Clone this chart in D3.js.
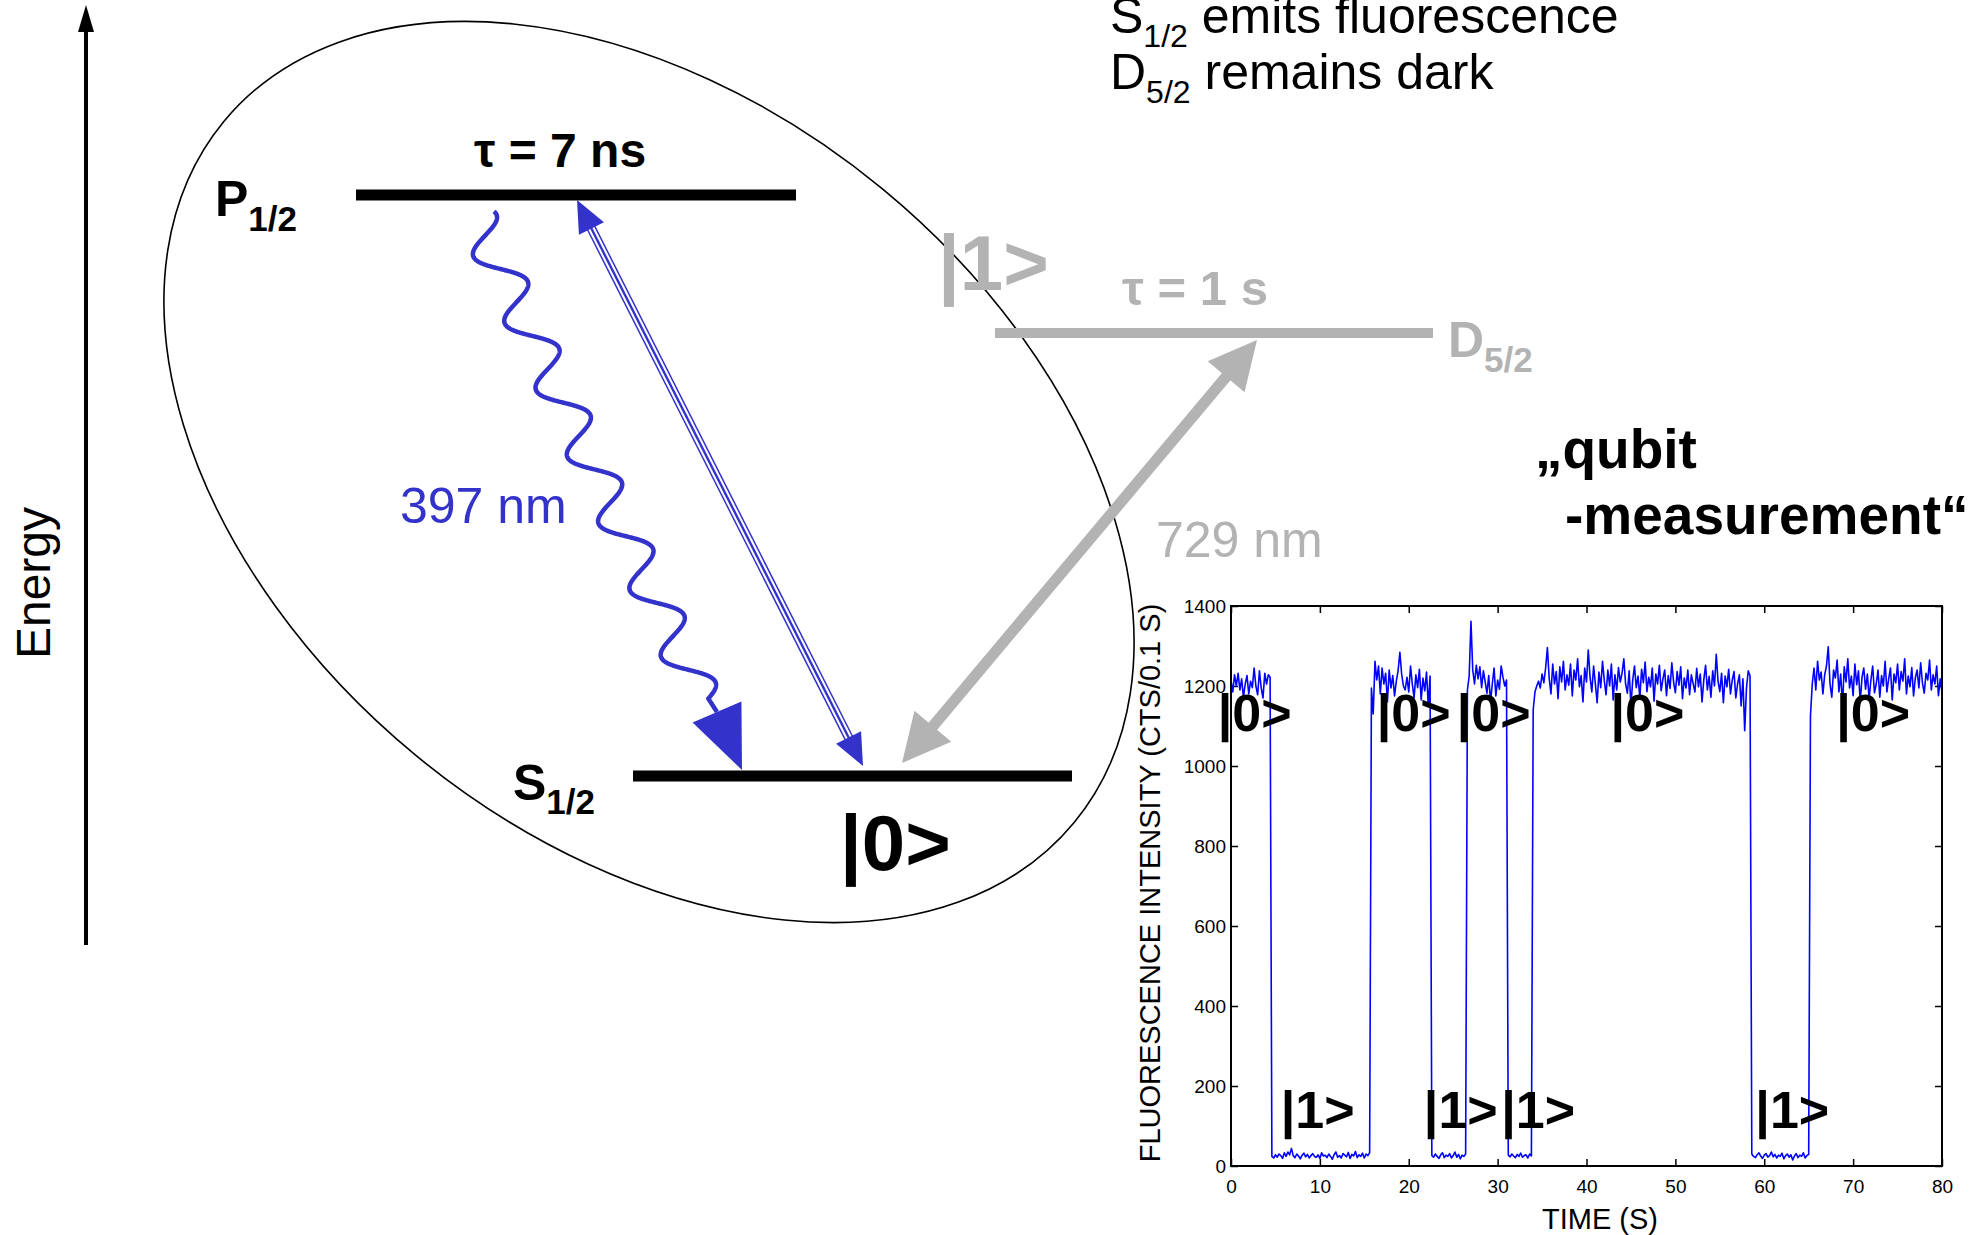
<!DOCTYPE html>
<html><head><meta charset="utf-8">
<script src="https://cdn.jsdelivr.net/npm/d3@7"></script>
<style>
html,body{margin:0;padding:0;background:#fff;overflow:hidden;}
svg{display:block;font-family:"Liberation Sans",Arial,Helvetica,sans-serif;}
</style></head><body>
<svg id="fig" width="1988" height="1235"></svg>
<script>
// ---------------- DATA ----------------
const timeStep = 0.2;                     // seconds between samples
const segStart = [0, 4.6, 15.8, 22.6, 26.6, 31.2, 34.0, 58.6, 65.2]; // start time of each state segment (s)
const segState = ["0","1","0","1","0","1","0","1","0"];
// fluorescence counts per 0.1 s
const seg1 = [1215,1185,1228,1200,1232,1190,1218,1172,1205,1226,1180,1212,1196,1245,1200,1178,1238,1195,1170,1232,1205,1228,1222];
const seg2 = [24,20,28,22,30,26,19,33,24,35, 28,44,26,21,30,25,18,27,32,23, 29,20,26,31,24,22,28,19,33,25, 27,21,30,24,17,28,35,22,26,20, 31,27,23,34,19,29,25,36,21,28, 24,32,20,30,26,33];
const seg3 = [1195,1130,1262,1215,1250,1180,1245,1205,1232,1160, 1240,1195,1226,1175,1212,1238,1284,1230,1200,1190, 1222,1185,1250,1205,1170,1228,1196,1242,1165,1220, 1188,1235,1150,1225];
const seg4 = [26,22,30,24,19,28,33,21,27,24,31,20,26,35,22,29,18,27,24,30];
const seg5 = [1190,1225,1362,1240,1205,1252,1218,1248,1196,1238, 1210,1182,1226,1160,1205,1245,1175,1215,1192,1250, 1222,1200,1215];
const seg6 = [27,23,30,25,21,29,24,32,22,26,28,20,30,25];
const seg7 = [1140,1185,1200,1212,1195,1230,1208,1245,1296,1220,
              1180,1255,1205,1236,1168,1248,1210,1262,1190,1228,
              1202,1255,1175,1240,1215,1268,1198,1226,1160,1245,
              1210,1290,1222,1185,1250,1205,1158,1235,1196,1262,
              1214,1178,1240,1200,1255,1165,1228,1190,1246,1210,
              1232,1268,1205,1182,1238,1150,1215,1250,1196,1225,
              1170,1242,1208,1260,1186,1222,1198,1245,1162,1230,
              1205,1252,1188,1218,1240,1176,1226,1194,1258,1210,
              1183,1236,1202,1248,1168,1220,1195,1240,1178,1228,
              1206,1185,1244,1198,1230,1160,1216,1252,1190,1224,
              1172,1238,1200,1279,1212,1186,1232,1158,1225,1198,
              1242,1180,1215,1236,1170,1205,1228,1150,1218,1088,
              1195,1238,1225];
const seg8 = [30,24,21,28,33,25,19,27,31,22, 26,35,23,29,20,27,24,32,18,26, 30,22,28,15,25,31,21,27,24,33, 20,26,29];
const seg9 = [1125,1205,1245,1190,1262,1215,1235,1180,1228,1250,
              1298,1205,1172,1240,1220,1265,1185,1230,1150,1248,
              1210,1268,1195,1225,1176,1255,1203,1238,1160,1222,
              1245,1192,1230,1168,1215,1250,1183,1205,1240,1172,
              1226,1200,1262,1185,1218,1245,1165,1230,1208,1255,
              1190,1236,1212,1268,1180,1225,1198,1246,1175,1220,
              1240,1195,1258,1208,1182,1232,1215,1265,1190,1228,
              1205,1250,1176,1218,1185];
const xTicks = [0,10,20,30,40,50,60,70,80];
const yTicks = [0,200,400,600,800,1000,1200,1400];
const zeroLabelX = [-1.5, 16.4, 25.4, 42.7, 68.1];   // time position of "|0>" annotations
const zeroLabelY = 1088;
const oneLabelX = [5.6, 21.7, 30.4, 59.0];           // time position of "|1>" annotations
const oneLabelY = 96;

// ---------------- CHART ----------------
const svg = d3.select('#fig');
const FONT = '"Liberation Sans", Arial, Helvetica, sans-serif';
const BLUE = '#3333cc', GRAY = '#b3b3b3';

const plot = {l:1231, r:1942, t:606, b:1166};
const x = d3.scaleLinear().domain([0,80]).range([plot.l, plot.r]);
const y = d3.scaleLinear().domain([0,1400]).range([plot.b, plot.t]);

const segments = [seg1,seg2,seg3,seg4,seg5,seg6,seg7,seg8,seg9];
const series = [];
segments.forEach((vals,k)=>vals.forEach((v,i)=>series.push({t: Math.round((segStart[k]+i*timeStep)*100)/100, v})));

const fmt = d3.format('d');
function styleAxis(g){
  g.select('.domain').remove();
  g.attr('font-size',19).attr('font-family',FONT);
  g.selectAll('.tick line').attr('stroke','#000').attr('stroke-width',1.5);
  g.selectAll('.tick text').attr('fill','#000');
}
styleAxis(svg.append('g').attr('transform',`translate(0,${plot.b})`)
  .call(d3.axisBottom(x).tickValues(xTicks).tickFormat(fmt).tickSizeInner(-7).tickSizeOuter(0).tickPadding(14)));
styleAxis(svg.append('g').attr('transform',`translate(${plot.l},0)`)
  .call(d3.axisLeft(y).tickValues(yTicks).tickFormat(fmt).tickSizeInner(-7).tickSizeOuter(0).tickPadding(5)));
styleAxis(svg.append('g').attr('transform',`translate(0,${plot.t})`)
  .call(d3.axisTop(x).tickValues(xTicks).tickSizeInner(-7).tickSizeOuter(0).tickFormat('')));
styleAxis(svg.append('g').attr('transform',`translate(${plot.r},0)`)
  .call(d3.axisRight(y).tickValues(yTicks).tickSizeInner(-7).tickSizeOuter(0).tickFormat('')));

svg.append('path').datum(series)
  .attr('d', d3.line().x(d=>x(d.t)).y(d=>y(d.v)))
  .attr('fill','none').attr('stroke','#0000ff').attr('stroke-width',1.6).attr('stroke-linejoin','round');

svg.append('rect').attr('x',plot.l).attr('y',plot.t).attr('width',plot.r-plot.l).attr('height',plot.b-plot.t)
  .attr('fill','none').attr('stroke','#000').attr('stroke-width',2);

svg.append('text').attr('transform',`translate(1160,883) rotate(-90)`).attr('text-anchor','middle')
  .attr('font-size',29).attr('font-family',FONT).text('FLUORESCENCE INTENSITY (CTS/0.1 S)');
svg.append('text').attr('x',1600).attr('y',1229).attr('text-anchor','middle')
  .attr('font-size',29).attr('font-family',FONT).text('TIME (S)');

svg.selectAll('.l0').data(zeroLabelX).enter().append('text')
  .attr('x',d=>x(d)).attr('y',y(zeroLabelY)).attr('font-size',52).attr('font-weight','bold')
  .attr('font-family',FONT).text('|0>');
svg.selectAll('.l1').data(oneLabelX).enter().append('text')
  .attr('x',d=>x(d)).attr('y',y(oneLabelY)).attr('font-size',52).attr('font-weight','bold')
  .attr('font-family',FONT).text('|1>');

// ---------------- LEVEL DIAGRAM ----------------
const dg = svg.append('g');
function headPts(tip, dir, len, hw){
  const n=[-dir[1],dir[0]];
  const b=[tip[0]-dir[0]*len, tip[1]-dir[1]*len];
  return [tip,[b[0]+n[0]*hw,b[1]+n[1]*hw],[b[0]-n[0]*hw,b[1]-n[1]*hw]].map(p=>p.join(',')).join(' ');
}
function unit(a,b){const dx=b[0]-a[0],dy=b[1]-a[1],L=Math.hypot(dx,dy);return [dx/L,dy/L,L];}

// ellipse
dg.append('ellipse').attr('cx',649).attr('cy',472).attr('rx',551).attr('ry',367)
  .attr('transform','rotate(39.5,649,472)').attr('fill','none').attr('stroke','#000').attr('stroke-width',1.6);

// energy axis
dg.append('line').attr('x1',86).attr('x2',86).attr('y1',945).attr('y2',28).attr('stroke','#000').attr('stroke-width',4);
dg.append('polygon').attr('points',headPts([86,5],[0,-1],27,8)).attr('fill','#000');
dg.append('text').attr('transform','translate(50,583) rotate(-90)').attr('text-anchor','middle')
  .attr('font-size',48).attr('font-family',FONT).text('Energy');

// levels
dg.append('line').attr('x1',356).attr('x2',796).attr('y1',195).attr('y2',195).attr('stroke','#000').attr('stroke-width',11);
dg.append('line').attr('x1',633).attr('x2',1072).attr('y1',776).attr('y2',776).attr('stroke','#000').attr('stroke-width',11);
dg.append('line').attr('x1',995).attr('x2',1433).attr('y1',333).attr('y2',333).attr('stroke',GRAY).attr('stroke-width',10);

// gray 729 nm arrow
{
  const A=[1257,340], B=[902,763];
  const [ux,uy]=unit(A,B);
  dg.append('line').attr('x1',A[0]+ux*40).attr('y1',A[1]+uy*40).attr('x2',B[0]-ux*40).attr('y2',B[1]-uy*40)
    .attr('stroke',GRAY).attr('stroke-width',11);
  dg.append('polygon').attr('points',headPts(A,[-ux,-uy],48,24)).attr('fill',GRAY);
  dg.append('polygon').attr('points',headPts(B,[ux,uy],48,24)).attr('fill',GRAY);
}
// blue 397 nm double-line arrow
{
  const A=[577,200], B=[863,766];
  const [ux,uy]=unit(A,B);
  const nx=uy, ny=-ux;
  [[-4,1.5],[0,2.4],[4,1.5]].forEach(([o,w])=>{
    dg.append('line').attr('x1',A[0]+ux*26+nx*o).attr('y1',A[1]+uy*26+ny*o)
      .attr('x2',B[0]-ux*26+nx*o).attr('y2',B[1]-uy*26+ny*o).attr('stroke',BLUE).attr('stroke-width',w);
  });
  dg.append('polygon').attr('points',headPts(A,[-ux,-uy],32,14)).attr('fill',BLUE);
  dg.append('polygon').attr('points',headPts(B,[ux,uy],32,14)).attr('fill',BLUE);
}
// wavy spontaneous emission
{
  const O=[478.4,221.6], u=[0.424,0.905], n=[0.905,-0.424];
  const P=73.8, amp=19.4, c=4, u0=34;
  const pts=[];
  for(let ph=-Math.PI-0.3; ph<=13*Math.PI+1.3; ph+=0.05){
    const uu=u0+P*ph/(2*Math.PI)-c*Math.cos(ph);
    const nn=-amp*Math.cos(ph);
    pts.push([O[0]+u[0]*uu+n[0]*nn, O[1]+u[1]*uu+n[1]*nn]);
  }
  const base=[717,712], tip=[742,770];
  pts.push(base);
  dg.append('path').attr('d',d3.line().curve(d3.curveLinear)(pts)).attr('fill','none')
    .attr('stroke',BLUE).attr('stroke-width',4.5).attr('stroke-linejoin','round');
  const [ux,uy,L]=unit(base,tip);
  dg.append('polygon').attr('points',headPts(tip,[ux,uy],L,26.6)).attr('fill',BLUE);
}

// texts
function sub(x0,y0,main,subTxt,size,subSize,dy,fill,weight,rest){
  const t=dg.append('text').attr('x',x0).attr('y',y0).attr('font-size',size).attr('font-family',FONT)
    .attr('fill',fill).attr('font-weight',weight);
  t.append('tspan').text(main);
  t.append('tspan').attr('font-size',subSize).attr('dy',dy).text(subTxt);
  if(rest) t.append('tspan').attr('dy',-dy).text(rest);
  return t;
}
sub(215,216,'P','1/2',50,35,15,'#000','bold');
sub(513,800,'S','1/2',50,35,14,'#000','bold');
sub(1448,357,'D','5/2',50,35,15,GRAY,'bold');
sub(1110,33,'S','1/2',50,32,14,'#000','normal',' emits fluorescence');
sub(1110,89,'D','5/2',50,32,14,'#000','normal',' remains dark');

dg.append('text').attr('x',560).attr('y',167).attr('text-anchor','middle').attr('font-size',48)
  .attr('font-weight','bold').attr('font-family',FONT).text('τ = 7 ns');
dg.append('text').attr('x',1195).attr('y',305).attr('text-anchor','middle').attr('font-size',49)
  .attr('font-weight','bold').attr('font-family',FONT).attr('fill',GRAY).text('τ = 1 s');
dg.append('text').attr('x',938).attr('y',290).attr('font-size',78)
  .attr('font-weight','bold').attr('font-family',FONT).attr('fill',GRAY).text('|1>');
dg.append('text').attr('x',840).attr('y',870).attr('font-size',78)
  .attr('font-weight','bold').attr('font-family',FONT).attr('fill','#000').text('|0>');
dg.append('text').attr('x',400).attr('y',523).attr('font-size',50)
  .attr('font-family',FONT).attr('fill',BLUE).text('397 nm');
dg.append('text').attr('x',1156).attr('y',557).attr('font-size',50)
  .attr('font-family',FONT).attr('fill',GRAY).text('729 nm');
dg.append('text').attr('x',1535).attr('y',468).attr('font-size',55)
  .attr('font-weight','bold').attr('font-family',FONT).text('„qubit');
dg.append('text').attr('x',1565).attr('y',534).attr('font-size',55)
  .attr('font-weight','bold').attr('font-family',FONT).text('-measurement“');
</script>
</body></html>
